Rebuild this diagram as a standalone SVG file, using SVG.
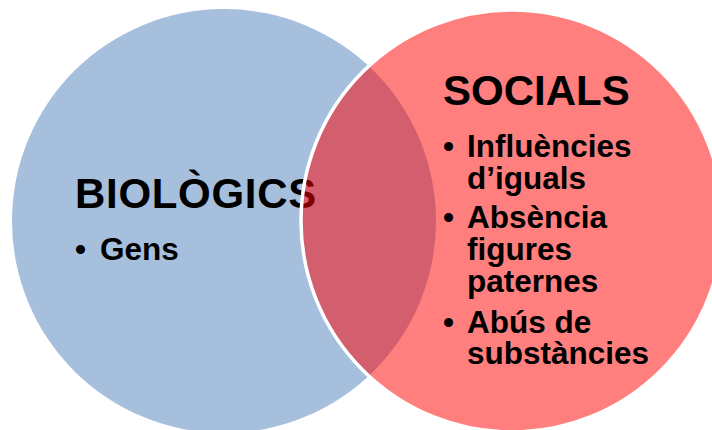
<svg xmlns="http://www.w3.org/2000/svg" width="712" height="430" viewBox="0 0 712 430">
  <style>
    .t { font-family: "Liberation Sans", Arial, sans-serif; font-weight: bold; fill: #000; }
    .h { font-size: 42px; }
    .b { font-size: 31.5px; }
  </style>
  <rect width="712" height="430" fill="#ffffff"/>
  <g id="biologics">
    <circle cx="224" cy="221" r="212" fill="#a6bfdd"/>
    <text class="t h" x="75" y="208" letter-spacing="0.7">BIOLÒGICS</text>
    <text class="t b" x="75" y="260">•</text>
    <text class="t b" x="100" y="260">Gens</text>
  </g>
  <g id="socials">
    <circle cx="512" cy="221" r="211" fill="#ff0000" fill-opacity="0.5" stroke="#ffffff" stroke-width="3.5"/>
    <text class="t h" x="443" y="105">SOCIALS</text>
    <text class="t b" x="443" y="157">•</text>
    <text class="t b" x="467" y="157">Influències</text>
    <text class="t b" x="467" y="189">d’iguals</text>
    <text class="t b" x="443" y="228">•</text>
    <text class="t b" x="467" y="228">Absència</text>
    <text class="t b" x="467" y="260">figures</text>
    <text class="t b" x="467" y="292">paternes</text>
    <text class="t b" x="443" y="333">•</text>
    <text class="t b" x="467" y="333">Abús de</text>
    <text class="t b" x="467" y="364">substàncies</text>
  </g>
</svg>
